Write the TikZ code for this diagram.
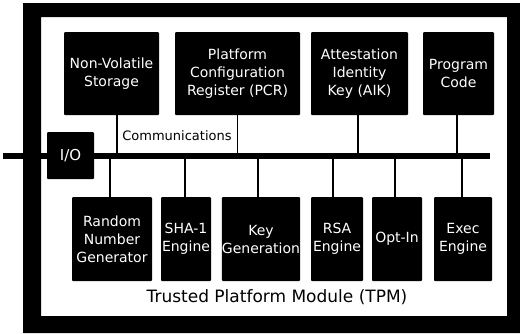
\documentclass[tikz,border=0pt]{standalone}
\usepackage{fontspec}
\setmainfont{DejaVu Sans}
\usepackage{tikz}
\usetikzlibrary{calc}
\tikzset{
    unit/.style={fill=black, text=white, rounded corners=1pt, inner sep=0pt,
        align=center, font=\fontsize{14}{18}\selectfont},
    wire/.style={line width=1.5pt},
    bus/.style={line width=6pt}
}

\begin{document}
\begin{tikzpicture}[x=1pt,y=-1pt]
        \useasboundingbox (0,0) rectangle (520,333);
        \fill[even odd rule] (23,3) rectangle (520,333) (41,17) rectangle (507,316);

        % top row
        \draw (111.5,73.5) node[unit, minimum width=95, minimum height=83](nvs){Non-Volatile\\Storage};
        \draw (237.5,73.5) node[unit, minimum width=125, minimum height=83](pcr){Platform\\Configuration\\Register (PCR)};
        \draw (359.5,73.5) node[unit, minimum width=97, minimum height=83](aik){Attestation\\Identity\\Key (AIK)};
        \draw (458.5,73.5) node[unit, minimum width=71, minimum height=83](prog){Program\\Code};

        % bottom row
        \draw (112,239) node[unit, minimum width=80, minimum height=84](rng){Random\\Number\\Generator};
        \draw (186,239) node[unit, minimum width=50, minimum height=84](sha){SHA-1\\Engine};
        \draw (261,239) node[unit, minimum width=78, minimum height=84](keygen){Key\\Generation};
        \draw (337,239) node[unit, minimum width=52, minimum height=84](rsa){RSA\\Engine};
        \draw (397,239) node[unit, minimum width=50, minimum height=84](optin){Opt-In};
        \draw (463,239) node[unit, minimum width=58, minimum height=84](exec){Exec\\Engine};

        % bus
        \coordinate (busw) at (3,156);
        \coordinate (buse) at (490,156);
        \draw[bus] (busw) -- (buse);
        \draw (70.5,155.5) node[unit, font=\fontsize{15}{18}\selectfont, minimum width=47, minimum height=47](io){I/O};

        \draw[wire] ([xshift=5.5]nvs.south) -- ([xshift=5.5]nvs.south |- busw);
        \draw[wire] (pcr.south) -- (pcr.south |- busw);
        \draw[wire] ([xshift=-1.5]aik.south) -- ([xshift=-1.5]aik.south |- busw);
        \draw[wire] ([xshift=-1.5]prog.south) -- ([xshift=-1.5]prog.south |- busw);

        \draw[wire] ([xshift=-2]rng.north) -- ([xshift=-2]rng.north |- busw);
        \draw[wire] ([xshift=-1]sha.north) -- ([xshift=-1]sha.north |- busw);
        \draw[wire] ([xshift=-3]keygen.north) -- ([xshift=-3]keygen.north |- busw);
        \draw[wire] ([xshift=-4]rsa.north) -- ([xshift=-4]rsa.north |- busw);
        \draw[wire] ([xshift=-2]optin.north) -- ([xshift=-2]optin.north |- busw);
        \draw[wire] ([xshift=-1]exec.north) -- ([xshift=-1]exec.north |- busw);

        \draw (177,140) node[anchor=base, font=\fontsize{13}{16}\selectfont](comm){Communications};
        \draw (277,302) node[anchor=base, font=\fontsize{17}{20}\selectfont](tpm){Trusted Platform Module (TPM)};
    \end{tikzpicture}
\end{document}
